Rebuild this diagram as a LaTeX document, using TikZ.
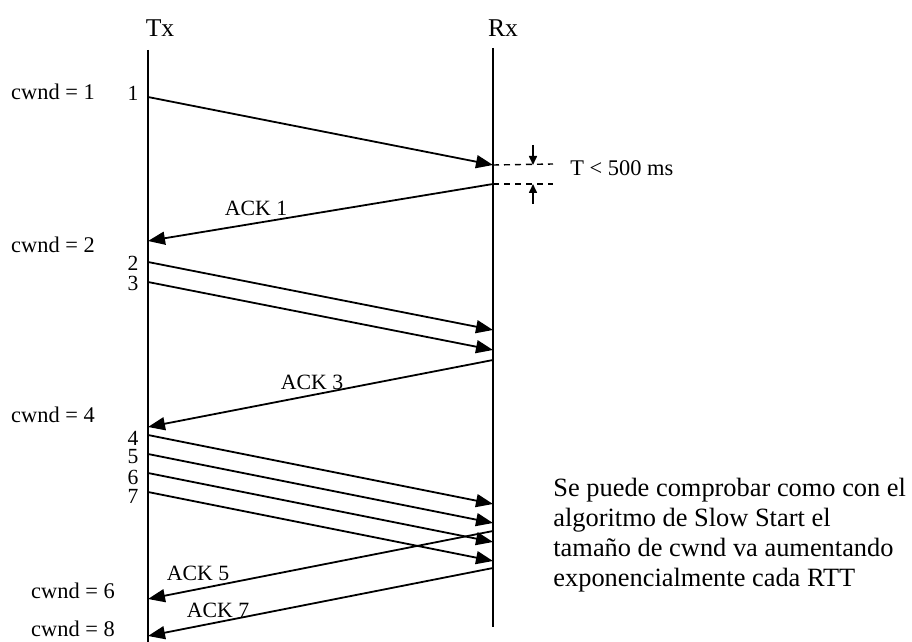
\documentclass[tikz,border=0pt]{standalone}
\usepackage{fontspec}
\setmainfont{Liberation Serif}
\usetikzlibrary{arrows.meta, positioning}

\begin{document}
\begin{tikzpicture}[x=0.5pt, y=-0.5pt,
        titulo/.style={inner sep=0pt, font=\fontsize{12.8}{15}\selectfont},
        etiqueta/.style={inner sep=0pt, font=\fontsize{11.2}{13}\selectfont},
        numero/.style={inner sep=0pt, font=\fontsize{10.8}{12}\selectfont},
        ack/.style={inner sep=0pt, font=\fontsize{10.9}{13}\selectfont},
        nota/.style={inner sep=0pt, align=left, font=\fontsize{13.2}{15}\selectfont},
        vida/.style={line width=1pt},
        msg/.style={-{Triangle[length=8.5pt, width=6.5pt]}, line width=0.9pt},
        cota/.style={-{Triangle[length=4.5pt, width=4pt]}, line width=0.8pt},
        guia/.style={dashed, dash pattern=on 3pt off 2.5pt, line width=0.7pt}
    ]
        \useasboundingbox (0,0) rectangle (912,642);

        % Extremos y lineas de vida
        \node[titulo] (tx) at (160,28) {Tx};
        \node[titulo] (rx) at (503,28) {Rx};
        \coordinate (txtop) at (148,50);
        \coordinate (txbot) at (148,642);
        \coordinate (rxtop) at (493,48);
        \coordinate (rxbot) at (493,627);
        \draw[vida] (txtop) -- (txbot);
        \draw[vida] (rxtop) -- (rxbot);

        % Ventana de congestion
        \node[etiqueta] (cw1) at (53,92) {cwnd = 1};
        \node[etiqueta] (cw2) at (53,245) {cwnd = 2};
        \node[etiqueta] (cw4) at (53,415) {cwnd = 4};
        \node[etiqueta] (cw6) at (73,591) {cwnd = 6};
        \node[etiqueta] (cw8) at (73,629) {cwnd = 8};

        % Segmentos Tx -> Rx
        \foreach \n/\ya/\yb/\yl in {1/97/165/93, 2/262/330/263, 3/282/350/283,
                4/435/504/438, 5/454/523/457, 6/473/542/477, 7/492/561/496}{
            \node[numero] (num\n) at (133,\yl) {\n};
            \coordinate (s\n) at (148,\ya);
            \coordinate (r\n) at (493,\yb);
            \draw[msg] (s\n) -- (r\n);
        }

        % Asentimientos Rx -> Tx
        \foreach \n/\ya/\yb in {1/184/241, 3/360/427, 5/531/599, 7/568/636}{
            \coordinate (a\n) at (493,\ya);
            \coordinate (b\n) at (148,\yb);
            \draw[msg] (a\n) -- (b\n);
        }
        \node[ack] (ack1) at (256,208) {ACK 1};
        \node[ack] (ack3) at (312,382) {ACK 3};
        \node[ack] (ack5) at (198,573) {ACK 5};
        \node[ack] (ack7) at (218,610) {ACK 7};

        % Tiempo de respuesta
        \coordinate (g1) at (553,164);
        \coordinate (g2) at (553,184);
        \coordinate (c1) at (533,145);
        \coordinate (c2) at (533,204);
        \draw[guia] (r1) -- (g1);
        \draw[guia] (a1) -- (g2);
        \draw[cota] (c1) -- (c1 |- r1);
        \draw[cota] (c2) -- (c2 |- a1);
        \node[etiqueta, anchor=west] (tiempo) at (570,168) {T < 500 ms};

        % Comentario
        \node[nota, anchor=north west] (texto) at (553,478)
            {Se puede comprobar como con el\\algoritmo de Slow Start el\\tamaño de cwnd va aumentando\\exponencialmente cada RTT};
    \end{tikzpicture}
\end{document}
